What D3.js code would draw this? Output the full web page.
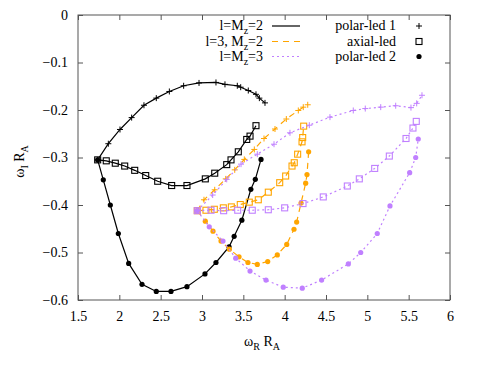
<!DOCTYPE html>
<html>
<head>
<meta charset="utf-8">
<script src="https://cdn.jsdelivr.net/npm/d3@7"></script>
<style>
  body { margin: 0; background: #fff; }
  svg text { font-family: "Liberation Serif", "Times New Roman", Times, "DejaVu Serif", serif; font-size: 14px; fill: #000; }
  .axis path { display: none; }
  .axis line { stroke: #555; }
</style>
</head>
<body>
<div id="chart"></div>
<script>
// data: [omega_R R_A, omega_I R_A]
var xTicks = [1.5, 2, 2.5, 3, 3.5, 4, 4.5, 5, 5.5, 6];
var yTicks = [0, -0.1, -0.2, -0.3, -0.4, -0.5, -0.6];

// l = Mz = 2 (black)
var blackPolar1 = [[1.738,-0.305],[1.867,-0.271],[2.008,-0.241],[2.149,-0.216],[2.298,-0.190],[2.447,-0.175],
  [2.605,-0.161],[2.778,-0.149],[2.964,-0.143],[3.169,-0.142],[3.278,-0.146],[3.427,-0.149],[3.468,-0.152],
  [3.560,-0.159],[3.653,-0.167],[3.694,-0.175],[3.762,-0.185]];
var blackAxial = [[1.738,-0.305],[1.842,-0.307],[1.951,-0.312],[2.065,-0.318],[2.186,-0.327],[2.319,-0.338],
  [2.464,-0.350],[2.633,-0.359],[2.818,-0.359],[3.040,-0.345],[3.154,-0.333],[3.299,-0.315],[3.351,-0.305],
  [3.439,-0.288],[3.541,-0.262],[3.581,-0.255],[3.653,-0.233]];
var blackPolar2 = [[1.738,-0.305],[1.806,-0.347],[1.891,-0.400],[1.988,-0.460],[2.113,-0.523],[2.274,-0.567],
  [2.447,-0.582],[2.625,-0.582],[2.818,-0.572],[3.036,-0.545],[3.169,-0.521],[3.327,-0.488],[3.389,-0.466],
  [3.482,-0.432],[3.591,-0.367],[3.645,-0.346],[3.714,-0.304]];

// l = 3, Mz = 2 (orange)
var orangePolar1 = [[2.943,-0.412],[3.024,-0.389],[3.154,-0.368],[3.287,-0.345],[3.396,-0.326],[3.512,-0.304],
  [3.633,-0.283],[3.750,-0.260],[3.883,-0.240],[4.020,-0.219],[4.165,-0.201],[4.225,-0.194],[4.279,-0.189]];
var orangeAxial = [[2.943,-0.412],[3.048,-0.411],[3.149,-0.409],[3.258,-0.406],[3.355,-0.404],[3.463,-0.399],
  [3.572,-0.394],[3.681,-0.389],[3.802,-0.373],[3.940,-0.353],[4.012,-0.339],[4.089,-0.318],[4.116,-0.311],
  [4.157,-0.293],[4.210,-0.267],[4.218,-0.258],[4.230,-0.234]];
var orangePolar2 = [[2.943,-0.412],[3.040,-0.434],[3.133,-0.455],[3.230,-0.476],[3.331,-0.493],[3.448,-0.509],
  [3.556,-0.521],[3.669,-0.525],[3.795,-0.519],[3.911,-0.505],[4.025,-0.483],[4.113,-0.451],[4.145,-0.436],
  [4.198,-0.396],[4.254,-0.354],[4.270,-0.336],[4.290,-0.288]];

// l = Mz = 3 (purple)
var purplePolar1 = [[2.943,-0.412],[3.129,-0.379],[3.299,-0.346],[3.472,-0.314],[3.669,-0.293],[3.871,-0.272],
  [4.064,-0.248],[4.298,-0.232],[4.548,-0.215],[4.830,-0.201],[4.975,-0.197],[5.162,-0.194],[5.343,-0.191],
  [5.528,-0.195],[5.597,-0.186],[5.661,-0.169]];
var purpleAxial = [[2.943,-0.412],[3.109,-0.411],[3.262,-0.412],[3.432,-0.411],[3.608,-0.411],[3.802,-0.410],
  [4.000,-0.406],[4.222,-0.397],[4.467,-0.383],[4.758,-0.360],[4.903,-0.345],[5.089,-0.323],[5.266,-0.297],
  [5.468,-0.260],[5.552,-0.238],[5.592,-0.224]];
var purplePolar2 = [[2.943,-0.412],[3.088,-0.446],[3.254,-0.476],[3.408,-0.512],[3.581,-0.539],[3.774,-0.558],
  [3.983,-0.573],[4.213,-0.575],[4.447,-0.558],[4.770,-0.524],[4.920,-0.500],[5.120,-0.460],[5.274,-0.402],
  [5.512,-0.332],[5.585,-0.300],[5.616,-0.261]];

var groups = [
  {label: ["l=M", "z", "=2"], color: "#000000", dash: null, series: [blackPolar1, blackAxial, blackPolar2]},
  {label: ["l=3, M", "z", "=2"], color: "#ffa500", dash: "6,5", series: [orangePolar1, orangeAxial, orangePolar2]},
  {label: ["l=M", "z", "=3"], color: "#c080ff", dash: "2,3", series: [purplePolar1, purpleAxial, purplePolar2]}
];
var markerNames = ["polar-led 1", "axial-led", "polar-led 2"];
var markerTypes = ["plus", "square", "dot"];

var svgWidth = 479;
var svgHeight = 368;
var margin = {top: 15, right: 29, bottom: 68, left: 78};
var width = svgWidth - margin.left - margin.right;
var height = svgHeight - margin.top - margin.bottom;

var svg = d3.select("#chart")
  .append("svg")
  .attr("width", svgWidth)
  .attr("height", svgHeight);

var chartGroup = svg.append("g")
  .attr("transform", `translate(${margin.left}, ${margin.top})`);

var xScale = d3.scaleLinear().domain([1.5, 6]).range([0, width]);
var yScale = d3.scaleLinear().domain([-0.6, 0]).range([height, 0]);

// axes, ticks pointing inward and mirrored
var fmt = d3.format("");
var bottomAxis = d3.axisBottom(xScale).tickValues(xTicks).tickSize(-5).tickPadding(11).tickFormat(fmt);
var leftAxis = d3.axisLeft(yScale).tickValues(yTicks).tickSize(-5).tickPadding(10).tickFormat(fmt);
var topAxis = d3.axisTop(xScale).tickValues(xTicks).tickSize(-5).tickFormat("");
var rightAxis = d3.axisRight(yScale).tickValues(yTicks).tickSize(-5).tickFormat("");

chartGroup.append("g").attr("class", "axis")
  .attr("transform", `translate(0, ${height})`).call(bottomAxis);
chartGroup.append("g").attr("class", "axis").call(leftAxis);
chartGroup.append("g").attr("class", "axis").call(topAxis);
chartGroup.append("g").attr("class", "axis")
  .attr("transform", `translate(${width}, 0)`).call(rightAxis);
chartGroup.selectAll(".axis")
  .attr("font-family", null).attr("font-size", null);

chartGroup.append("rect")
  .attr("width", width).attr("height", height)
  .attr("fill", "none").attr("stroke", "#555").attr("stroke-width", 1);

// axis titles
var xTitle = svg.append("text")
  .attr("x", margin.left + width / 2 - 2)
  .attr("y", 346)
  .attr("text-anchor", "middle");
xTitle.append("tspan").text("ω");
xTitle.append("tspan").attr("dy", 4).style("font-size", "10px").text("R");
xTitle.append("tspan").attr("dy", -4).text(" R");
xTitle.append("tspan").attr("dy", 4).style("font-size", "10px").text("A");

var yTitle = svg.append("text")
  .attr("transform", `translate(24, ${margin.top + height / 2 + 4}) rotate(-90)`)
  .attr("text-anchor", "middle");
yTitle.append("tspan").text("ω");
yTitle.append("tspan").attr("dy", 4).style("font-size", "10px").text("I");
yTitle.append("tspan").attr("dy", -4).text(" R");
yTitle.append("tspan").attr("dy", 4).style("font-size", "10px").text("A");

var line = d3.line()
  .x(d => xScale(d[0]))
  .y(d => yScale(d[1]));

function drawMarker(g, type, x, y, color) {
  if (type === "plus") {
    g.append("path")
      .attr("d", `M${x - 3},${y}H${x + 3}M${x},${y - 3}V${y + 3}`)
      .attr("stroke", color).attr("stroke-width", 1);
  } else if (type === "square") {
    g.append("rect")
      .attr("x", x - 3).attr("y", y - 3).attr("width", 6).attr("height", 6)
      .attr("fill", "none").attr("stroke", color).attr("stroke-width", 1.1);
  } else {
    g.append("circle")
      .attr("cx", x).attr("cy", y).attr("r", 2.6)
      .attr("fill", color);
  }
}

groups.forEach(function(grp) {
  grp.series.forEach(function(data, i) {
    chartGroup.append("path")
      .datum(data)
      .attr("d", line)
      .attr("fill", "none")
      .attr("stroke", grp.color)
      .attr("stroke-width", 1.2)
      .attr("stroke-dasharray", grp.dash);
    var mg = chartGroup.append("g");
    data.forEach(function(d) {
      drawMarker(mg, markerTypes[i], xScale(d[0]), yScale(d[1]), grp.color);
    });
  });
});

// legend, colours on the left, point types on the right
var legendRows = [26, 41.5, 56.5];
groups.forEach(function(grp, i) {
  var t = svg.append("text")
    .attr("x", 263).attr("y", legendRows[i] + 4)
    .attr("text-anchor", "end");
  t.append("tspan").text(grp.label[0]);
  t.append("tspan").attr("dy", 4).style("font-size", "10px").text(grp.label[1]);
  t.append("tspan").attr("dy", -4).text(grp.label[2]);
  svg.append("line")
    .attr("x1", 272).attr("x2", 300)
    .attr("y1", legendRows[i]).attr("y2", legendRows[i])
    .attr("stroke", grp.color).attr("stroke-width", 1.2)
    .attr("stroke-dasharray", grp.dash);
});
markerNames.forEach(function(name, i) {
  svg.append("text")
    .attr("x", 396).attr("y", legendRows[i] + 4)
    .attr("text-anchor", "end")
    .text(name);
  drawMarker(svg, markerTypes[i], 419, legendRows[i], "#000");
});
</script>
</body>
</html>
